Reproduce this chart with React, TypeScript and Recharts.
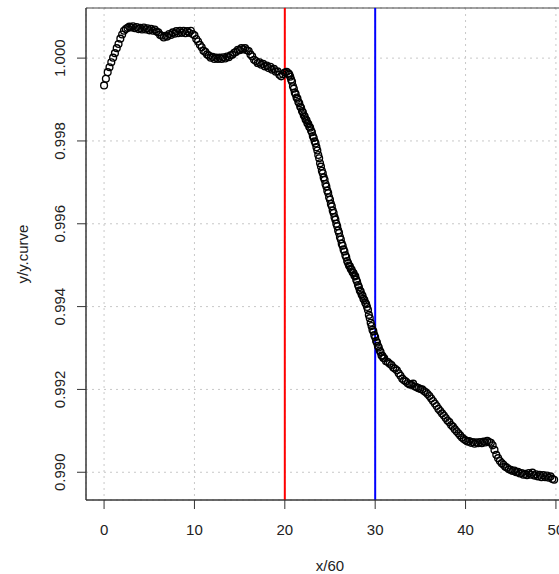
import {
  ScatterChart,
  Scatter,
  XAxis,
  YAxis,
  CartesianGrid,
  ReferenceLine,
  ReferenceArea,
} from "recharts";

// time (x/60) and ratio (y/y.curve)
const xs = [
  0.0, 0.2, 0.4, 0.6, 0.8, 1.0, 1.2, 1.4, 1.6, 1.8, 2.0, 2.2, 2.4, 2.6, 2.8, 3.0, 3.2, 3.4, 3.6, 3.8,
  4.0, 4.2, 4.4, 4.6, 4.8, 5.0, 5.2, 5.4, 5.6, 5.8, 6.0, 6.2, 6.4, 6.6, 6.8, 7.0, 7.2, 7.4, 7.6, 7.8,
  8.0, 8.2, 8.4, 8.6, 8.8, 9.0, 9.2, 9.4, 9.6, 9.8, 10.0, 10.2, 10.4, 10.6, 10.8, 11.0, 11.2, 11.4, 11.6, 11.8,
  12.0, 12.2, 12.4, 12.6, 12.8, 13.0, 13.2, 13.4, 13.6, 13.8, 14.0, 14.2, 14.4, 14.6, 14.8, 15.0, 15.2, 15.4, 15.6, 15.8,
  16.0, 16.2, 16.4, 16.6, 16.8, 17.0, 17.2, 17.4, 17.6, 17.8, 18.0, 18.2, 18.4, 18.6, 18.8, 19.0, 19.2, 19.4, 19.6, 19.8,
  20.0, 20.2, 20.4,
  20.5, 20.6, 20.7, 20.8, 20.9, 21.0, 21.1, 21.2, 21.3, 21.4, 21.5, 21.6, 21.7, 21.8, 21.9, 22.0, 22.1, 22.2, 22.3, 22.4,
  22.5, 22.6, 22.7, 22.8, 22.9, 23.0, 23.1, 23.2, 23.3, 23.4, 23.5, 23.6, 23.7, 23.8, 23.9, 24.0, 24.1, 24.2, 24.3, 24.4,
  24.5, 24.6, 24.7, 24.8, 24.9, 25.0, 25.1, 25.2, 25.3, 25.4, 25.5, 25.6, 25.7, 25.8, 25.9, 26.0, 26.1, 26.2, 26.3, 26.4,
  26.5, 26.6, 26.7, 26.8, 26.9, 27.0, 27.1, 27.2, 27.3, 27.4, 27.5, 27.6, 27.7, 27.8, 27.9, 28.0, 28.1, 28.2, 28.3, 28.4,
  28.5, 28.6, 28.7, 28.8, 28.9, 29.0, 29.1, 29.2, 29.3, 29.4, 29.5, 29.6, 29.7, 29.8, 29.9, 30.0, 30.1, 30.2, 30.3, 30.4,
  30.5, 30.6, 30.7, 30.8, 30.9, 31.0,
  31.2, 31.4, 31.6, 31.8, 32.0, 32.2, 32.4, 32.6, 32.8, 33.0, 33.2, 33.4, 33.6, 33.8, 34.0, 34.2, 34.4, 34.6, 34.8, 35.0,
  35.2, 35.4, 35.6, 35.8, 36.0, 36.2, 36.4, 36.6, 36.8, 37.0, 37.2, 37.4, 37.6, 37.8, 38.0, 38.2, 38.4, 38.6, 38.8, 39.0,
  39.2, 39.4, 39.6, 39.8, 40.0, 40.2, 40.4, 40.6, 40.8, 41.0, 41.2, 41.4, 41.6, 41.8, 42.0, 42.2, 42.4, 42.6, 42.8, 43.0,
  43.2, 43.4, 43.6, 43.8, 44.0, 44.2, 44.4, 44.6, 44.8, 45.0, 45.2, 45.4, 45.6, 45.8, 46.0, 46.2, 46.4, 46.6, 46.8, 47.0,
  47.2, 47.4, 47.6, 47.8, 48.0, 48.2, 48.4, 48.6, 48.8, 49.0, 49.2, 49.4, 49.6, 49.8,
];
const ys = [
  0.99934, 0.9995, 0.99966, 0.99978, 0.9999, 1.00001, 1.00012, 1.00024, 1.00034, 1.00047, 1.00057, 1.00066, 1.0007, 1.00073, 1.00076, 1.00074, 1.00077, 1.00072, 1.00075, 1.0007,
  1.00073, 1.00069, 1.00074, 1.00069, 1.00072, 1.00067, 1.00071, 1.00066, 1.00069, 1.00064, 1.00062, 1.00056, 1.00054, 1.0005, 1.00054, 1.00052, 1.00058, 1.00056, 1.00062, 1.00059,
  1.00065, 1.0006, 1.00066, 1.00061, 1.00066, 1.0006, 1.00065, 1.00061, 1.00066, 1.00058, 1.00055, 1.00046, 1.0004, 1.00032, 1.00026, 1.00018, 1.00015, 1.00009, 1.00006, 1.00001,
  1.00003, 0.99998, 1.00001, 0.99998, 1.00001, 0.99998, 1.00002, 0.99999, 1.00004, 1.00002, 1.00007, 1.00008, 1.00013, 1.00015, 1.0002, 1.00019, 1.00024, 1.00021, 1.00024, 1.00019,
  1.00017, 1.00009, 1.00004, 0.99996, 0.99993, 0.99988, 0.9999, 0.99984, 0.99986, 0.9998, 0.99982, 0.99976, 0.99979, 0.99972, 0.99974, 0.99967, 0.99968, 0.9996, 0.99956, 0.99961,
  0.99965, 0.99967, 0.99963,
  0.9996, 0.99955, 0.99948, 0.99943, 0.99932, 0.99926, 0.99917, 0.99913, 0.99905, 0.99902, 0.99894, 0.99891, 0.99883, 0.9988, 0.99872, 0.99869, 0.99862, 0.99859, 0.99852, 0.9985,
  0.99843, 0.99841, 0.99834, 0.99832, 0.99825, 0.99821, 0.99812, 0.99807, 0.99799, 0.99794, 0.99785, 0.99777, 0.99766, 0.99758, 0.99746, 0.99738, 0.99728, 0.99722, 0.99712, 0.99706,
  0.99696, 0.9969, 0.9968, 0.99674, 0.99664, 0.99658, 0.99648, 0.99642, 0.99632, 0.99626, 0.99616, 0.9961, 0.996, 0.99594, 0.99584, 0.99578, 0.99568, 0.99562, 0.99552, 0.99547,
  0.99538, 0.99533, 0.99524, 0.99519, 0.9951, 0.99505, 0.99499, 0.99497, 0.99491, 0.99489, 0.99483, 0.99481, 0.99475, 0.99473, 0.99465, 0.9946, 0.99452, 0.99447, 0.99439, 0.99436,
  0.99429, 0.99426, 0.99419, 0.99416, 0.99409, 0.99406, 0.99399, 0.99392, 0.9938, 0.99372, 0.99361, 0.99353, 0.99344, 0.9934, 0.99331, 0.99326, 0.99317, 0.99313, 0.99305, 0.99301,
  0.99294, 0.9929, 0.99282, 0.99281, 0.99276, 0.99275,
  0.99268, 0.99266, 0.99262, 0.99259, 0.99253, 0.9925, 0.99246, 0.99239, 0.99233, 0.99226, 0.99222, 0.99219, 0.99215, 0.99212, 0.99211, 0.99214, 0.99207, 0.99205, 0.99203, 0.99201,
  0.992, 0.99196, 0.99193, 0.99189, 0.99184, 0.99178, 0.99172, 0.99166, 0.9916, 0.99153, 0.99148, 0.99142, 0.99137, 0.99131, 0.99125, 0.99121, 0.99114, 0.9911, 0.99104, 0.99099,
  0.99094, 0.99089, 0.99084, 0.9908, 0.99077, 0.99074, 0.99075, 0.99071, 0.99073, 0.99069, 0.99072, 0.9907, 0.99073, 0.9907, 0.99074, 0.99072, 0.99076, 0.99073, 0.99071, 0.99065,
  0.99054, 0.99042, 0.99034, 0.99027, 0.99022, 0.99018, 0.99013, 0.99011, 0.99007, 0.99006, 0.99003, 0.99004, 0.99, 0.99001, 0.98997, 0.98998, 0.98994, 0.98996, 0.98993, 0.98998,
  0.98994, 0.98999, 0.98992, 0.98995, 0.9899, 0.98994, 0.98988, 0.98993, 0.98988, 0.98992, 0.98987, 0.9899, 0.98984, 0.98982,
];

const xTicks = [0, 10, 20, 30, 40, 50];
const yTicks = [0.99, 0.992, 0.994, 0.996, 0.998, 1.0];
const xDomain = [-2, 52];
const yDomain = [0.98933, 1.00121];
const markers = [
  { x: 20, color: "#ff0000" },
  { x: 30, color: "#0000ff" },
];

const points = xs.map((x, i) => ({ x, y: ys[i] }));

const font = "Liberation Sans, Arial, sans-serif";

const Ring = (props: any) => (
  <circle cx={props.cx} cy={props.cy} r={3.4} fill="none" stroke="#000" strokeWidth={1.35} />
);

const YTick = ({ x, y, payload }: any) => (
  <text
    x={x}
    y={y}
    transform={`rotate(-90 ${x} ${y})`}
    textAnchor="middle"
    fontSize={15}
    fontFamily={font}
    fill="#222"
  >
    {Number(payload.value).toFixed(3)}
  </text>
);

const XTick = ({ x, payload }: any) => (
  <text x={x} y={535} textAnchor="middle" fontSize={15} fontFamily={font} fill="#222">
    {payload.value}
  </text>
);

export default function App() {
  return (
    <div style={{ position: "absolute", left: 0, top: 0, width: 559, height: 574, overflow: "hidden", background: "#fff" }}>
      <ScatterChart width={600} height={574} margin={{ top: 8, right: 26, bottom: 14, left: 8 }}>
        <CartesianGrid stroke="#c8c8c8" strokeDasharray="2 4" />
        <XAxis
          type="number"
          dataKey="x"
          domain={xDomain}
          ticks={xTicks}
          allowDataOverflow
          height={60}
          tickSize={9}
          tickLine={{ stroke: "#333" }}
          axisLine={{ stroke: "#333" }}
          tick={<XTick />}
          label={{
            content: () => (
              <text x={330} y={571} textAnchor="middle" fontSize={15} fontFamily={font} fill="#222">
                x/60
              </text>
            ),
          }}
        />
        <YAxis
          type="number"
          dataKey="y"
          domain={yDomain}
          ticks={yTicks}
          allowDataOverflow
          width={78}
          tickSize={9}
          tickMargin={12}
          tickLine={{ stroke: "#333" }}
          axisLine={{ stroke: "#333" }}
          tick={<YTick />}
          label={{
            content: () => (
              <text
                x={28}
                y={254}
                transform="rotate(-90 28 254)"
                textAnchor="middle"
                fontSize={15}
                fontFamily={font}
                fill="#222"
              >
                y/y.curve
              </text>
            ),
          }}
        />
        <ReferenceArea
          x1={xDomain[0]}
          x2={xDomain[1]}
          y1={yDomain[0]}
          y2={yDomain[1]}
          fill="none"
          stroke="#444"
          strokeWidth={1}
        />
        <Scatter data={points} shape={<Ring />} isAnimationActive={false} />
        {markers.map((m) => (
          <ReferenceLine key={m.x} x={m.x} stroke={m.color} strokeWidth={2} />
        ))}
      </ScatterChart>
    </div>
  );
}
